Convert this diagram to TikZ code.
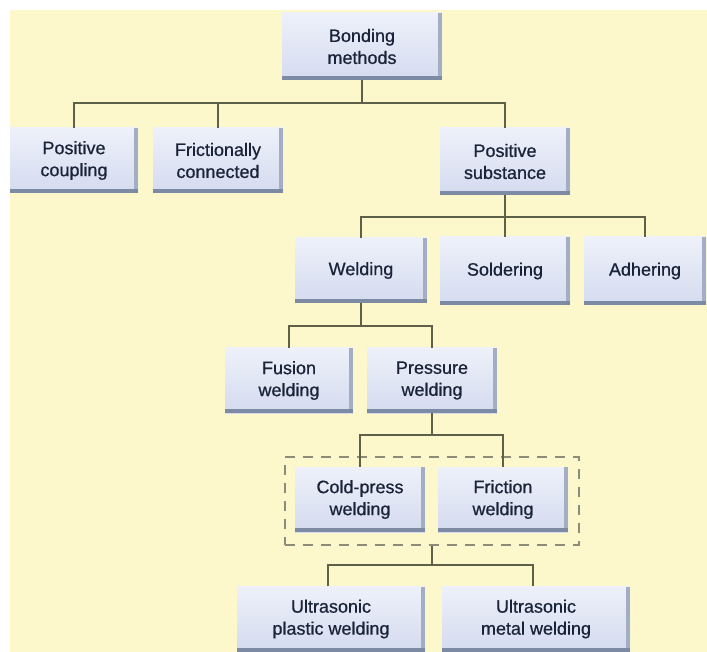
\documentclass[tikz,border=0pt]{standalone}
\usepackage{fontspec}
\setmainfont{Liberation Sans}
\newfontfamily\boxfont{Liberation Sans}[FakeBold=0.7]
\usetikzlibrary{positioning}
\definecolor{bgyellow}{HTML}{FCF8CC}
\definecolor{boxtop}{HTML}{EEF1FA}
\definecolor{boxbot}{HTML}{D4DBEF}
\definecolor{boxshade}{HTML}{7D8AA3}
\definecolor{boxside}{HTML}{A3AEC4}
\definecolor{linecol}{HTML}{5F6049}
\definecolor{dashcol}{HTML}{8C8C78}
\definecolor{txtcol}{HTML}{1A2438}
\tikzset{
  blockbox/.style={
    top color=boxtop, bottom color=boxbot, draw=none,
    minimum width=130pt, minimum height=65pt, inner sep=0pt,
    align=center, text=txtcol,
    font=\boxfont\fontsize{18}{22}\selectfont,
    path picture={
      \fill[boxside] ([xshift=-4pt]path picture bounding box.south east) rectangle (path picture bounding box.north east);
      \fill[boxshade] (path picture bounding box.south west) rectangle ([yshift=4pt]path picture bounding box.south east);
    }
  },
  link/.style={draw=linecol, line width=1.6pt},
  groupbox/.style={draw=dashcol, line width=1.6pt, dash pattern=on 10pt off 8pt, fill=none}
}
\begin{document}
\begin{tikzpicture}[x=1pt,y=-1pt]
\useasboundingbox (0,0) rectangle (707,652);
\fill[white] (0,0) rectangle (707,652);
\fill[bgyellow] (10,10) rectangle (707,652);

% nodes
\node[blockbox, minimum width=160pt, minimum height=67pt] (root) at (362,46.5) {Bonding\\methods};
\node[blockbox, minimum width=128pt] (pc) at (74,160.5) {Positive\\coupling};
\node[blockbox] (fc) at (218,160.5) {Frictionally\\connected};
\node[blockbox, minimum height=67pt] (ps) at (505,161.5) {Positive\\substance};
\node[blockbox, minimum width=132pt] (weld) at (361,270.5) {Welding};
\node[blockbox, minimum height=68pt] (sold) at (505,271) {Soldering};
\node[blockbox, minimum width=122pt, minimum height=68pt] (adh) at (645,271) {Adhering};
\node[blockbox, minimum width=128pt] (fus) at (289,380.5) {Fusion\\welding};
\node[blockbox] (pres) at (432,380.5) {Pressure\\welding};
\node[blockbox] (cold) at (360,499.5) {Cold-press\\welding};
\node[blockbox] (fric) at (503,499.5) {Friction\\welding};
\node[groupbox, minimum width=294pt, minimum height=88pt, inner sep=0pt] (grp) at (432,501) {};
\node[blockbox, minimum width=188pt] (ups) at (331,619) {Ultrasonic\\plastic welding};
\node[blockbox, minimum width=188pt] (umw) at (536,619) {Ultrasonic\\metal welding};

% bus coordinates
\coordinate (b1) at (362,103);
\coordinate (b2) at (505,217);
\coordinate (b3) at (432,326);
\coordinate (b4) at (432,435);
\coordinate (b5) at (432,565);

% connectors
\draw[link] (root.south) -- (b1);
\draw[link] (pc.north) |- (b1) -| (ps.north);
\draw[link] (fc.north) -- (fc.north |- b1);

\draw[link] (ps.south) -- (sold.north);
\draw[link] (weld.north) |- (b2) -| (adh.north);

\draw[link] (weld.south) -- (weld.south |- b3);
\draw[link] (fus.north) |- (b3) -| (pres.north);

\draw[link] (pres.south) -- (b4);
\draw[link] (cold.north) |- (b4) -| (fric.north);

\draw[link] (grp.south) -- (b5);
\draw[link] ([xshift=-3pt]ups.north) |- (b5) -| ([xshift=-3pt]umw.north);
\end{tikzpicture}
\end{document}
